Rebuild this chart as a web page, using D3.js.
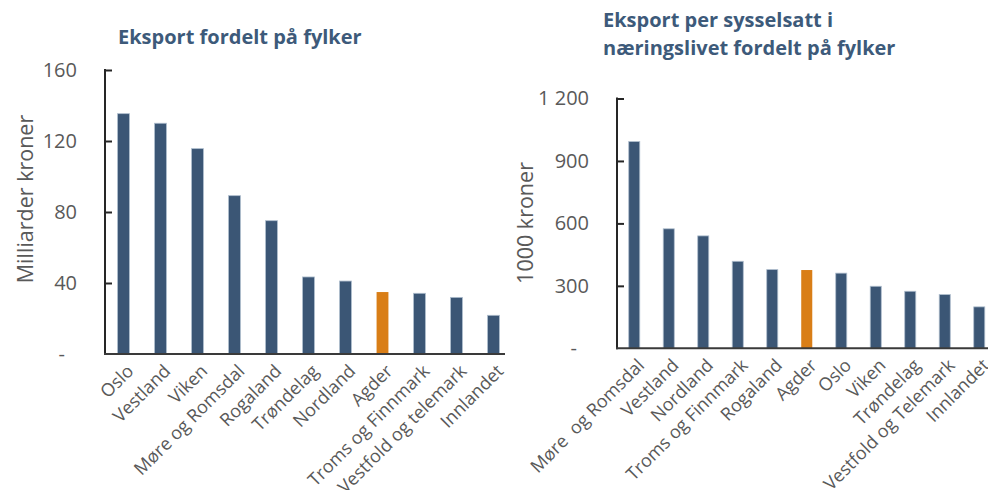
<!DOCTYPE html>
<html lang="no">
<head>
<meta charset="utf-8">
<script src="https://cdn.jsdelivr.net/npm/d3@7/dist/d3.min.js"></script>
<style>
  html, body { margin: 0; padding: 0; background: #fff; }
  svg { display: block; font-family: "Open Sans", "Liberation Sans", sans-serif; }
  .title { font-weight: 700; fill: #3d5a7a; }
  .tick text, .ylab, .xlab { fill: #595959; }
</style>
</head>
<body>
<svg id="chart" width="988" height="490"></svg>
<script>
// Eksport fordelt på fylker (milliarder kroner)
const fylkerTotal = ["Oslo", "Vestland", "Viken", "Møre og Romsdal", "Rogaland", "Trøndelag",
  "Nordland", "Agder", "Troms og Finnmark", "Vestfold og telemark", "Innlandet"];
const eksportTotal = [135.4, 130, 115.7, 89.2, 75.1, 43.4, 41.1, 34.9, 34.2, 31.9, 21.8];
const ticksTotal = [0, 40, 80, 120, 160];

// Eksport per sysselsatt i næringslivet (1000 kroner)
const fylkerPerAnsatt = ["Møre  og Romsdal", "Vestland", "Nordland", "Troms og Finnmark", "Rogaland",
  "Agder", "Oslo", "Viken", "Trøndelag", "Vestfold og Telemark", "Innlandet"];
const eksportPerAnsatt = [993, 574, 540, 418, 378, 376, 361, 298, 274, 258, 199];
const ticksPerAnsatt = [0, 300, 600, 900, 1200];

const highlight = "Agder";
const barColor = "#3b5675", highlightColor = "#d97e17";

const svg = d3.select("#chart");
const nbLocale = d3.formatLocale({ decimal: ",", thousands: " ", grouping: [3], currency: ["", " kr"] });
const fmt = nbLocale.format(",d");

function panel(opts) {
  const { names, values, ticks, left, right, axisEnd, top, bottom, yMax,
          yLabel, yLabelX, yLabelY, title, titleX, titleY } = opts;
  const g = svg.append("g");

  const x = d3.scaleBand().domain(names).range([left, right]).paddingInner(0.68).paddingOuter(0.34);
  const y = d3.scaleLinear().domain([0, yMax]).range([bottom, top]);

  // bars
  g.selectAll("rect.bar").data(names).join("rect")
    .attr("class", "bar")
    .attr("x", d => x(d))
    .attr("width", x.bandwidth())
    .attr("y", (d, i) => y(values[i]))
    .attr("height", (d, i) => y(0) - y(values[i]))
    .attr("fill", d => d === highlight ? highlightColor : barColor)
    .attr("stroke", d => d === highlight ? "none" : "#aebdcd")
    .attr("stroke-width", 0.8);

  // y axis, ticks pointing inward
  const yAxis = d3.axisRight(y).tickValues(ticks)
    .tickSize(7)
    .tickFormat(d => d === 0 ? "-" : fmt(d));
  const ya = g.append("g").attr("transform", `translate(${left},0)`).call(yAxis);
  ya.select(".domain").remove();
  ya.selectAll(".tick line").attr("stroke", "#262626").attr("stroke-width", 2)
    .filter(d => d === 0).remove();
  ya.selectAll(".tick text")
    .attr("x", -28).attr("text-anchor", "end")
    .attr("font-size", 20).attr("font-family", "Open Sans, sans-serif")
    .attr("dx", d => d === 0 ? -12 : 0);
  g.append("line")
    .attr("x1", left).attr("x2", left)
    .attr("y1", top - 1).attr("y2", bottom + 1)
    .attr("stroke", "#262626").attr("stroke-width", 2);

  // x axis baseline and rotated category labels
  g.append("line")
    .attr("x1", left - 1).attr("x2", axisEnd)
    .attr("y1", bottom).attr("y2", bottom)
    .attr("stroke", "#3a3a3a").attr("stroke-width", 2);
  const xAxis = d3.axisBottom(x).tickSize(0);
  const xa = g.append("g").attr("transform", `translate(0,${bottom})`).call(xAxis);
  xa.select(".domain").remove();
  xa.selectAll(".tick text")
    .attr("class", "xlab")
    .style("white-space", "pre")
    .attr("font-size", 18).attr("font-family", "Open Sans, sans-serif")
    .attr("text-anchor", "end")
    .attr("x", -5).attr("y", 8).attr("dy", "0.71em")
    .attr("transform", "rotate(-45)");

  // y axis title
  g.append("text").attr("class", "ylab")
    .attr("transform", `translate(${yLabelX},${yLabelY}) rotate(-90)`)
    .attr("text-anchor", "middle")
    .attr("font-size", 21.5)
    .text(yLabel);

  // chart title
  const t = g.append("text").attr("class", "title").attr("font-size", 20);
  title.forEach((line, i) => {
    t.append("tspan").attr("x", titleX).attr("y", titleY + i * 28).text(line);
  });
}

panel({
  names: fylkerTotal, values: eksportTotal, ticks: ticksTotal,
  left: 105, right: 512, axisEnd: 505, top: 70, bottom: 354, yMax: 160,
  yLabel: "Milliarder kroner", yLabelX: 33, yLabelY: 199,
  title: ["Eksport fordelt på fylker"], titleX: 118, titleY: 44
});

panel({
  names: fylkerPerAnsatt, values: eksportPerAnsatt, ticks: ticksPerAnsatt,
  left: 617, right: 996.5, axisEnd: 988, top: 98.5, bottom: 348.3, yMax: 1200,
  yLabel: "1000 kroner", yLabelX: 533, yLabelY: 223,
  title: ["Eksport per sysselsatt i", "næringslivet fordelt på fylker"], titleX: 603, titleY: 27
});
</script>
</body>
</html>
